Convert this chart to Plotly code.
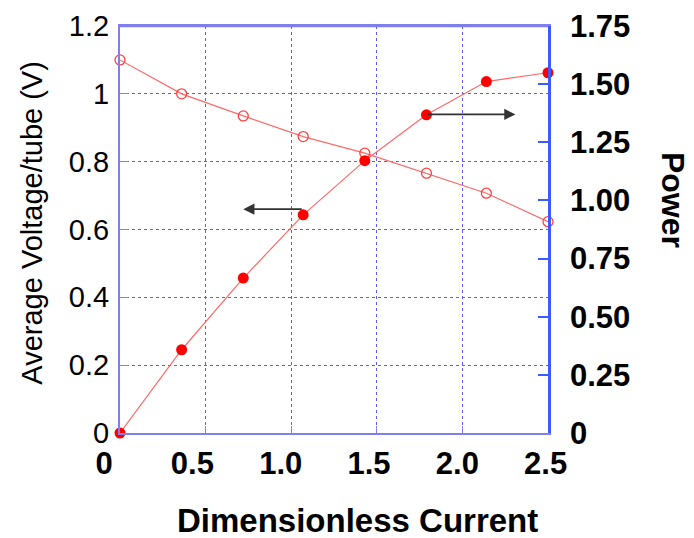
import plotly.graph_objects as go

# Data
current = [0.0, 0.36, 0.72, 1.07, 1.43, 1.79, 2.14, 2.5]
voltage = [1.10, 1.00, 0.935, 0.874, 0.825, 0.766, 0.707, 0.623]
power = [0.0, 0.358, 0.666, 0.938, 1.171, 1.368, 1.511, 1.549]

x_ticks = [0, 0.5, 1.0, 1.5, 2.0, 2.5]
x_ticktext = ["0", "0.5", "1.0", "1.5", "2.0", "2.5"]
v_ticks = [0, 0.2, 0.4, 0.6, 0.8, 1.0, 1.2]
v_ticktext = ["0", "0.2", "0.4", "0.6", "0.8", "1", "1.2"]
p_ticks = [0, 0.25, 0.5, 0.75, 1.0, 1.25, 1.5, 1.75]
p_ticktext = ["0", "0.25", "0.50", "0.75", "1.00", "1.25", "1.50", "1.75"]

FONT = "Liberation Sans, Arial, sans-serif"
LINE_RED = "#ff6a6a"
RED = "#ff0000"
FRAME = "#7f7fee"
GRID = "#5c5cf2"
RIGHT_BLUE = "#3a5cff"

fig = go.Figure()

fig.add_trace(go.Scatter(
    x=current, y=voltage, mode="lines+markers", cliponaxis=False,
    line=dict(color=LINE_RED, width=1.2),
    marker=dict(symbol="circle-open", size=10, color="#ff4040", line=dict(width=1.3)),
    xaxis="x", yaxis="y", showlegend=False))

fig.add_trace(go.Scatter(
    x=current, y=power, mode="lines+markers", cliponaxis=False,
    line=dict(color=LINE_RED, width=1.2),
    marker=dict(symbol="circle", size=11, color=RED),
    xaxis="x", yaxis="y2", showlegend=False))

# invisible helper trace so the separate tick-label axis (x2) is drawn
fig.add_trace(go.Scatter(
    x=x_ticks, y=[None] * len(x_ticks), mode="markers",
    xaxis="x2", yaxis="y3", showlegend=False, hoverinfo="skip"))

dom = [20 / 464, 448 / 464]

fig.update_layout(
    width=694, height=538,
    margin=dict(l=100, r=130, t=26, b=105, autoexpand=False),
    paper_bgcolor="white", plot_bgcolor="rgba(0,0,0,0)",
    font=dict(family=FONT, color="black"),
    xaxis=dict(
        domain=dom, range=[0, 2.5], tickvals=x_ticks, showticklabels=False,
        showgrid=True, gridcolor=GRID, griddash="dot", gridwidth=1.2,
        showline=True, linecolor=FRAME, linewidth=2, mirror=True,
        ticks="inside", ticklen=7, tickcolor=FRAME, tickwidth=1.2,
        zeroline=False, anchor="y", automargin=False, fixedrange=True),
    xaxis2=dict(
        domain=[0, 1], range=[-0.023, 2.604], anchor="y3",
        tickvals=x_ticks, ticktext=x_ticktext,
        tickfont=dict(family=FONT, size=31, color="black", weight="bold"),
        showgrid=False, showline=False, zeroline=False, ticks="",
        ticklabelstandoff=9, automargin=False, fixedrange=True),
    yaxis=dict(
        domain=[0, 1], range=[0, 1.2], tickvals=v_ticks, ticktext=v_ticktext,
        tickfont=dict(family=FONT, size=29, color="black"),
        showgrid=True, gridcolor=GRID, griddash="dot", gridwidth=1.2,
        showline=True, linecolor=FRAME, linewidth=2,
        ticks="inside", ticklen=8, tickcolor=FRAME, tickwidth=1.2,
        ticklabelstandoff=3, zeroline=False, anchor="x", automargin=False,
        fixedrange=True),
    yaxis2=dict(
        domain=[0, 1], range=[0, 1.75], tickvals=p_ticks, ticktext=p_ticktext,
        overlaying="y", side="right", anchor="x",
        tickfont=dict(family=FONT, size=31, color="black", weight="bold"),
        showgrid=False, showline=True, linecolor=RIGHT_BLUE, linewidth=2.5,
        ticks="inside", ticklen=10, tickcolor=RIGHT_BLUE, tickwidth=2,
        ticklabelstandoff=13, zeroline=False, automargin=False, fixedrange=True),
    yaxis3=dict(
        domain=[0, 1], range=[0, 1], anchor="x2", visible=False,
        showgrid=False, zeroline=False, fixedrange=True),
)

# top frame line of the inner plot
fig.add_shape(type="line", xref="x domain", yref="paper",
              x0=0, x1=1, y0=1, y1=1, layer="above",
              line=dict(color=FRAME, width=2.5))

# Axis titles
fig.add_annotation(text="Average Voltage/tube (V)", xref="paper", yref="paper",
                   x=-0.1455, y=0.518, xanchor="center", yanchor="middle",
                   textangle=-90, showarrow=False,
                   font=dict(family=FONT, size=29, color="black"))
fig.add_annotation(text="<b>Power</b>", xref="paper", yref="paper",
                   x=1.235, y=0.5725, xanchor="center", yanchor="middle",
                   textangle=90, showarrow=False,
                   font=dict(family=FONT, size=32, color="black"))
fig.add_annotation(text="<b>Dimensionless Current</b>", xref="paper", yref="paper",
                   x=0.554, y=-0.214, xanchor="center", yanchor="middle",
                   showarrow=False,
                   font=dict(family=FONT, size=33, color="black"))

# Arrows indicating which axis belongs to which curve
fig.add_annotation(x=0.72, y=0.66, xref="x", yref="y",
                   ax=current[3], ay=0.66, axref="x", ayref="y",
                   showarrow=True, arrowhead=2, arrowsize=1.4, arrowwidth=1.6,
                   arrowcolor="#333333", text="")
fig.add_annotation(x=2.31, y=1.37, xref="x", yref="y2",
                   ax=current[5], ay=1.37, axref="x", ayref="y2",
                   showarrow=True, arrowhead=2, arrowsize=1.4, arrowwidth=1.6,
                   arrowcolor="#333333", text="")

fig.write_html("out.html", config={"displayModeBar": False},
               post_script="document.body.style.margin='0';")
